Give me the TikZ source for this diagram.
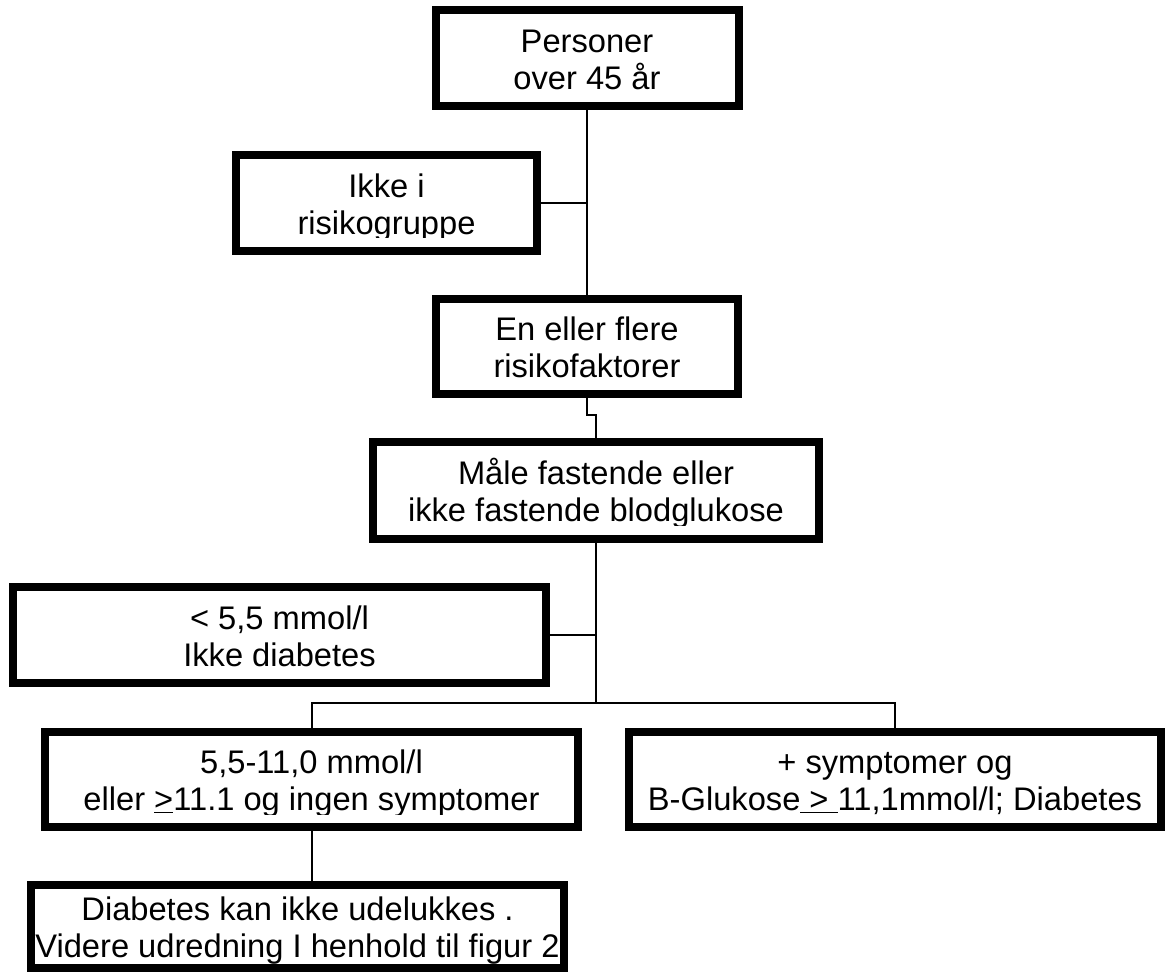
\documentclass[tikz,border=0pt]{standalone}
\usepackage{fontspec}
\setmainfont{Liberation Sans}
\begin{document}
\begin{tikzpicture}[x=0.75pt,y=-0.75pt,
  box/.style={draw, line width=6pt, fill=white, align=center, inner sep=0pt,
    text height=46.5pt, text depth=0pt,
    font=\fontsize{24.5}{27.75}\selectfont},
  conn/.style={line width=1.5pt},
  cut/.style={fill=white, draw=none}]
\useasboundingbox (0,0) rectangle (1167,972);
% boxes
\node[box, minimum width={303*0.75pt}, minimum height={96*0.75pt}] (b1) at (587,58) {Personer\\over 45 år};
\node[box, minimum width={301*0.75pt}, minimum height={96*0.75pt}] (b2) at (386.5,203) {Ikke i\\risikogruppe};
\node[box, minimum width={302*0.75pt}, minimum height={95*0.75pt}] (b3) at (587,346.5) {En eller flere\\risikofaktorer};
\node[box, minimum width={446*0.75pt}, minimum height={97*0.75pt}] (b4) at (596,490.5) {Måle fastende eller\\ikke fastende blodglukose};
\node[box, minimum width={533*0.75pt}, minimum height={96*0.75pt}] (b5) at (279.5,635) {< 5,5 mmol/l\\Ikke diabetes};
\node[box, minimum width={533*0.75pt}, minimum height={95*0.75pt}] (b6) at (311.5,779.5) {5,5-11,0 mmol/l\\eller \underline{>}11.1 og ingen symptomer};
\node[box, minimum width={532*0.75pt}, minimum height={95*0.75pt}] (b7) at (895,779.5) {+ symptomer og\\B-Glukose\underline{\ >\ }11,1mmol/l; Diabetes};
\node[box, minimum width={533*0.75pt}, minimum height={83*0.75pt}] (b8) at (297.5,926.5) {Diabetes kan ikke udelukkes .\\Videre udredning I henhold til figur 2};
% clipped descenders, as in the original text boxes
\fill[cut] (241,238) rectangle (532,246);
\fill[cut] (378,526) rectangle (814,534);
\fill[cut] (50,815) rectangle (573,822);
% connectors
\coordinate (j1) at (587,415);
\coordinate (j2) at (596,415);
\coordinate (br) at (596,703);
\draw[conn] (b1.south) -- (b3.north);
\draw[conn] (b2.east) -- (b2.east -| b1.south);
\draw[conn] (b3.south) -- (j1) -- (j2) -- (b4.north);
\draw[conn] (b4.south) -- (br);
\draw[conn] (b5.east) -- (b5.east -| br);
\draw[conn] (b6.north) |- (b7.north |- br) -- (b7.north);
\draw[conn] (b6.south) -- (b6.south |- b8.north);
\end{tikzpicture}
\end{document}
